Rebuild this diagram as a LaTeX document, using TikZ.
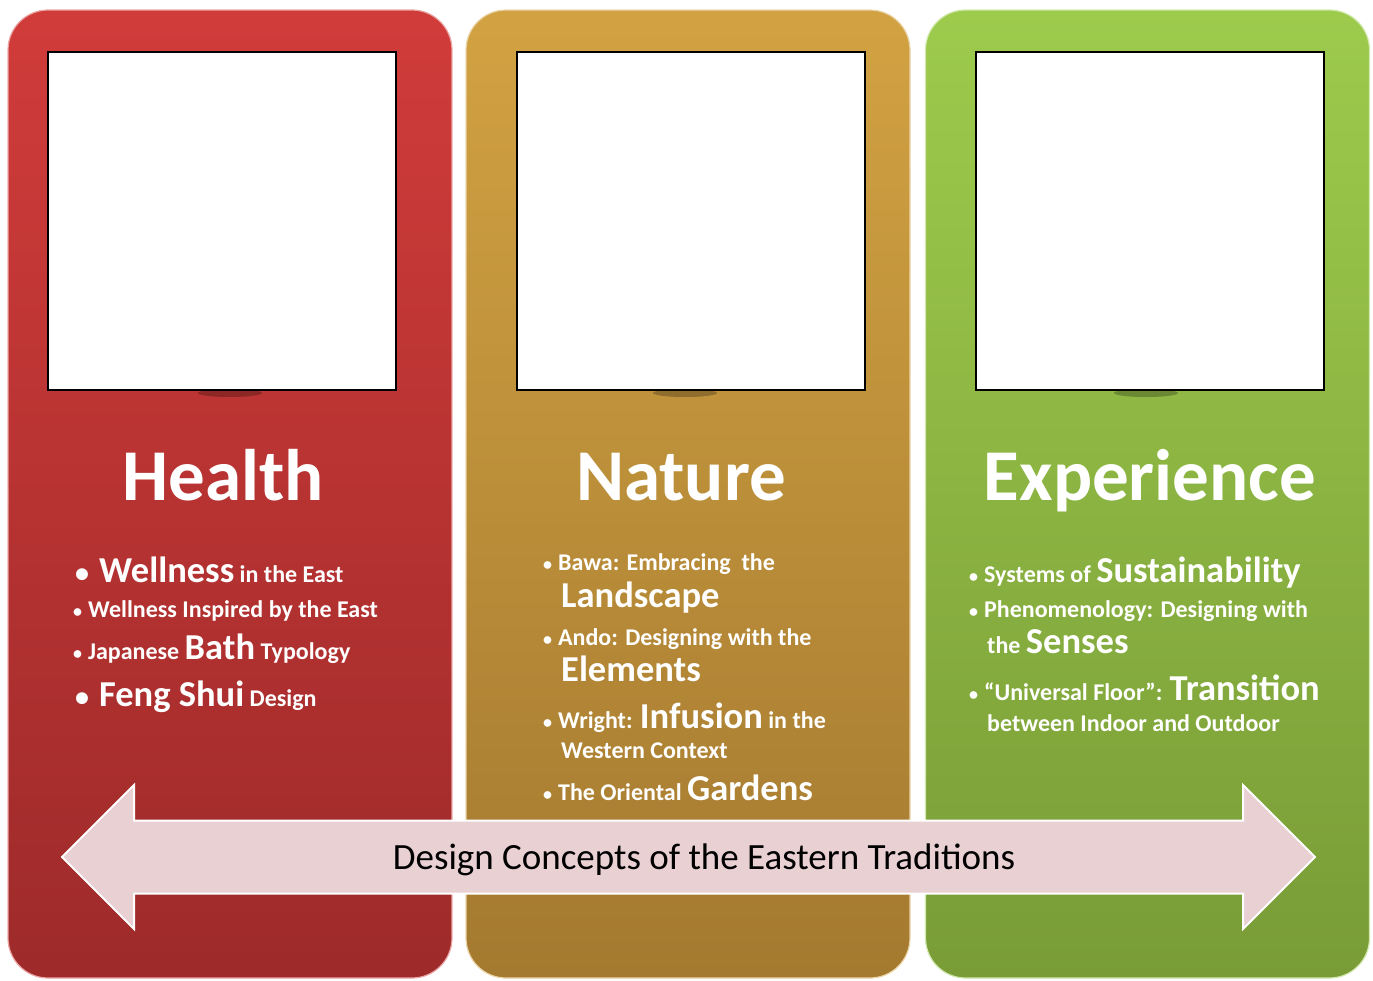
\documentclass[tikz,border=0pt]{standalone}
\usepackage{fontspec}
\setmainfont{Carlito}
\usetikzlibrary{shapes.arrows}

\definecolor{redtop}{HTML}{D03C3A}
\definecolor{redbot}{HTML}{9E2A2A}
\definecolor{goldtop}{HTML}{D2A242}
\definecolor{goldbot}{HTML}{A47A30}
\definecolor{greentop}{HTML}{9DCB4C}
\definecolor{greenbot}{HTML}{799C37}
\definecolor{bandpink}{HTML}{E8D0D3}

\tikzset{
  column/.style={rounded corners=40pt, minimum width=444pt, minimum height=968pt,
                 line width=1.2pt, draw=white!55!#1},
  photo/.style={draw=black, line width=2pt, fill=white,
                minimum width=348pt, minimum height=338pt},
  title/.style={anchor=base, text=white, font=\bfseries\fontsize{73}{76}\selectfont},
  item/.style={anchor=base west, text=white, inner sep=0pt,
               font=\bfseries\fontsize{24}{28}\selectfont},
}
\newcommand{\kw}[1]{{\fontsize{36.5}{40}\selectfont #1}}
\newcommand{\bul}{{\fontsize{18}{20}\selectfont•}\hspace{6pt}}
\newcommand{\kwbul}{{\fontsize{28}{30}\selectfont•}\hspace{10pt}}

\begin{document}
\begin{tikzpicture}[x=1pt, y=-1pt]
\useasboundingbox (0,0) rectangle (1373,980);

% columns
\node[column=redtop, top color=redtop, bottom color=redbot] (health) at (230,494) {};
\node[column=goldtop, top color=goldtop, bottom color=goldbot] (nature) at (688,494) {};
\node[column=greentop, top color=greentop, bottom color=greenbot] (experience) at (1147.5,494) {};

% shadows under the frames
\foreach \x in {230,685,1146}
  \fill[black, opacity=0.25] (\x,393) ellipse [x radius=32pt, y radius=4pt];

% picture frames
\node[photo] (healthpic) at (222,221) {};
\node[photo] (naturepic) at (691,221) {};
\node[photo] (experiencepic) at (1150,221) {};

% titles
\node[title] (healthtitle) at (223,500) {Health};
\node[title] (naturetitle) at (681,500) {Nature};
\node[title] (experiencetitle) at (1150,500) {Experience};

% health
\node[item] (h1) at (75,582) {\kwbul\kw{Wellness} in the East};
\node[item] (h2) at (73,617) {\bul Wellness Inspired by the East};
\node[item] (h3) at (73,659) {\bul Japanese \kw{Bath} Typology};
\node[item] (h4) at (75,706) {\kwbul\kw{Feng Shui} Design};

% nature
\node[item] (n1) at (543,570) {\bul Bawa: Embracing\ \ the};
\node[item] (n1b) at (561,607) {\kw{Landscape}};
\node[item] (n2) at (543,645) {\bul Ando: Designing with the};
\node[item] (n2b) at (561,681) {\kw{Elements}};
\node[item] (n3) at (543,728) {\bul Wright: \kw{Infusion} in the};
\node[item] (n3b) at (561,758) {Western Context};
\node[item] (n4) at (543,800) {\bul The Oriental \kw{Gardens}};

% experience
\node[item] (e1) at (969,582) {\bul Systems of \kw{Sustainability}};
\node[item] (e2) at (969,617) {\bul Phenomenology: Designing with};
\node[item] (e2b) at (987,653) {the \kw{Senses}};
\node[item] (e3) at (969,700) {\bul “Universal Floor”: \kw{Transition}};
\node[item] (e3b) at (987,731) {between Indoor and Outdoor};

% arrow band
\node[double arrow, fill=bandpink, draw=white, line width=2pt,
      inner xsep=0pt, inner ysep=35.5pt,
      minimum height=1253pt, double arrow head extend=35.5pt,
      double arrow tip angle=90] (band) at (688.5,857) {};
\node[anchor=base, font=\fontsize{37}{40}\selectfont] (bandtext) at (704,869)
  {Design Concepts of the Eastern Traditions};

\end{tikzpicture}
\end{document}
